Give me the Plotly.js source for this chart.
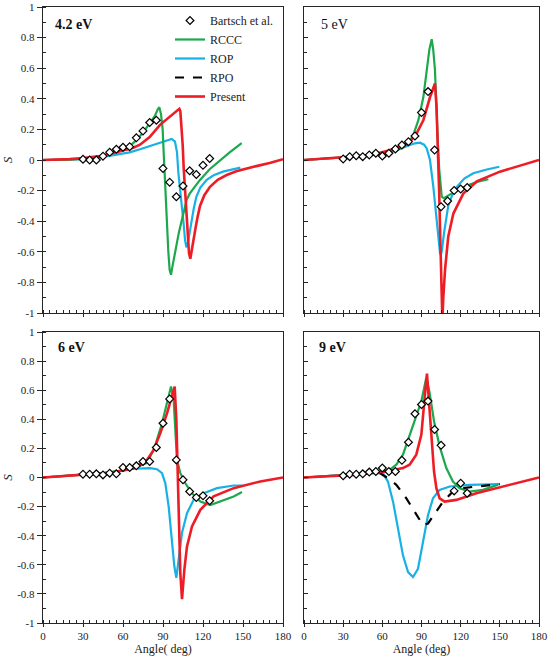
<!DOCTYPE html>
<html><head><meta charset="utf-8">
<script src="https://cdn.plot.ly/plotly-3.0.1.min.js"></script>
<style>html,body{margin:0;padding:0;background:#fff}#chart{width:550px;height:658px}</style>
</head><body><div id="chart"></div><script>
// ---------- data ----------
const panelLabels = ['4.2 eV', '5 eV', '6 eV', '9 eV'];
const yTickVals = [-1, -0.8, -0.6, -0.4, -0.2, 0, 0.2, 0.4, 0.6, 0.8, 1];
const yTickText = ['-1', '-0.8', '-0.6', '-0.4', '-0.2', '0', '0.2', '0.4', '0.6', '0.8', '1'];

// Bartsch et al. (experiment)
const expAngles = [30,35,40,45,50,55,60,65,70,75,80,85,90,95,100,105,110,115,120,125];
const exp42 = [0.005,0,0,0.025,0.05,0.07,0.083,0.087,0.145,0.19,0.245,0.26,-0.055,-0.145,-0.24,-0.17,-0.07,-0.095,-0.035,0.01];
const exp5  = [0.007,0.022,0.028,0.022,0.033,0.044,0.026,0.044,0.072,0.098,0.12,0.157,0.31,0.447,0.065,-0.305,-0.268,-0.2,-0.19,-0.18];
const exp6  = [0.023,0.023,0.025,0.018,0.03,0.025,0.069,0.069,0.08,0.11,0.11,0.206,0.373,0.54,0.121,-0.016,-0.096,-0.137,-0.126,-0.16];
const expAngles9 = [30,35,40,45,50,55,60,65,70,75,80,85,90,95,100,105,115,120,125];
const exp9  = [0.012,0.023,0.023,0.025,0.037,0.041,0.065,0.041,0.041,0.118,0.242,0.438,0.502,0.525,0.33,0.221,-0.092,-0.039,-0.108];

// 4.2 eV
const rccc42X = [0,10,20,30,40,50,60,65,70,75,80,84,86,87.25,88.5,89.75,90.5,91.25,92,93,94,95,96,97,98.5,100.25,102,104,106,107.75,110,114,117.75,125,132.75,140,149];
const rccc42Y = [0,0.001,0.003,0.008,0.018,0.04,0.07,0.09,0.13,0.18,0.24,0.29,0.33,0.345,0.3,0.2,0.05,-0.1,-0.25,-0.45,-0.6,-0.72,-0.75,-0.7,-0.62,-0.55,-0.47,-0.39,-0.32,-0.26,-0.22,-0.17,-0.13,-0.06,0,0.05,0.11];
const rop42X = [0,15,30,45,55,65,72.75,80,87.75,93,96.5,99,100.5,101.5,103,104.5,105.5,106.5,107.5,108.5,110,111.5,113,115,118,122.75,128,135,141,148];
const rop42Y = [0,0.002,0.005,0.02,0.035,0.05,0.07,0.09,0.113,0.13,0.138,0.12,0.05,-0.08,-0.2,-0.3,-0.42,-0.52,-0.57,-0.55,-0.47,-0.4,-0.32,-0.24,-0.18,-0.13,-0.1,-0.076,-0.062,-0.05];
const pres42X = [0,10,20,30,42.75,55,67.75,72.75,80,87.75,92,96.5,100,102.25,103,104,104.75,105.5,106.5,107.5,108.5,109.5,110.5,111.5,113,114.5,116,117.75,121,125.25,131,137.75,145,152.75,160,170,180];
const pres42Y = [0,0.002,0.006,0.012,0.026,0.05,0.08,0.1,0.15,0.23,0.26,0.29,0.32,0.335,0.32,0.2,0.1,-0.05,-0.2,-0.35,-0.5,-0.61,-0.645,-0.6,-0.52,-0.44,-0.37,-0.3,-0.23,-0.175,-0.13,-0.098,-0.073,-0.054,-0.04,-0.02,0.005];

// 5 eV
const rccc5X = [0,15,30,45,60,70,76,80,83.7,87.6,91.4,94,96,97.8,99,100.3,101,101.6,102.6,103.6,104.5,105.5,107,109.3,113,117,122,127,134,141.2];
const rccc5Y = [0,0.008,0.015,0.025,0.04,0.06,0.085,0.11,0.163,0.26,0.41,0.59,0.72,0.79,0.72,0.59,0.43,0.26,0.1,-0.065,-0.18,-0.24,-0.25,-0.24,-0.22,-0.2,-0.18,-0.16,-0.14,-0.126];
const rop5X = [0,15,30,45,60,70,78,85,88.8,92,94,96.5,99,101.6,103,104.2,104.9,105.8,107.2,108.8,110.5,113.5,117,123,129.7,140,149.6];
const rop5Y = [0,0.008,0.015,0.025,0.04,0.06,0.088,0.109,0.113,0.1,0.076,0,-0.17,-0.39,-0.52,-0.61,-0.62,-0.58,-0.48,-0.38,-0.3,-0.23,-0.175,-0.12,-0.087,-0.062,-0.044];
const pres5X = [0,15,30,45,55,65,73.5,81.2,86.3,91.4,96.5,99,100.3,101.5,102.5,103.5,104.5,105.3,106,106.7,108,110.5,114.4,122,132.3,150.1,165,180];
const pres5Y = [0,0.008,0.016,0.028,0.04,0.062,0.09,0.12,0.174,0.26,0.41,0.47,0.5,0.35,0.1,-0.2,-0.55,-0.85,-1.05,-0.9,-0.72,-0.5,-0.35,-0.22,-0.14,-0.076,-0.04,0];

// 6 eV
const rccc6X = [0,15,30,45,60,70,78,83.5,89.25,93,96,98,99.25,100.5,103,106.75,111.75,118,125.5,133,143,149.25];
const rccc6Y = [0,0.01,0.02,0.03,0.05,0.07,0.1,0.2,0.373,0.52,0.625,0.53,0.33,0.12,0.03,-0.04,-0.108,-0.165,-0.19,-0.165,-0.13,-0.1];
const rop6X = [0,15,30.5,45,55.5,68,80.5,85.5,89.25,91.75,94.25,96.75,98.5,100,101.75,104.25,108,113,120.5,130.5,143,150];
const rop6Y = [0,0.01,0.018,0.03,0.04,0.06,0.064,0.057,0.03,-0.04,-0.2,-0.43,-0.61,-0.69,-0.566,-0.38,-0.245,-0.153,-0.108,-0.073,-0.055,-0.055];
const pres6X = [0,15,30,43,55,68,78,83,88,93,96,98.75,100,101,102,103,104.25,106,108,111.75,118,128,143,163,180];
const pres6Y = [0,0.012,0.02,0.025,0.04,0.064,0.12,0.19,0.305,0.44,0.54,0.625,0.4,0.053,-0.29,-0.66,-0.836,-0.635,-0.474,-0.337,-0.222,-0.13,-0.073,-0.027,0];

// 9 eV
const rccc9X = [0,15,30,45,55,60.5,65.6,70.7,75.8,80.9,86,89.9,93.7,96.2,99.6,103.9,109,114.1,119.2,126.9,137.1,148.6];
const rccc9Y = [0,0.008,0.015,0.025,0.035,0.041,0.053,0.088,0.157,0.295,0.433,0.525,0.687,0.583,0.387,0.214,0.065,-0.028,-0.074,-0.097,-0.085,-0.05];
const rop9X = [0,15,30,50.3,60.5,64.3,68.2,72,75.8,79.7,83.5,87.3,91.1,95,98.8,103.9,111.6,126.9,149.9];
const rop9Y = [0,0.008,0.015,0.03,0.03,-0.028,-0.166,-0.35,-0.535,-0.65,-0.684,-0.627,-0.442,-0.258,-0.143,-0.085,-0.062,-0.051,-0.046];
const rpo9X = [30,45,58,64.3,70.7,78.4,86,91.1,95,100.1,106.5,112.8,120.5,132,149.9];
const rpo9Y = [0.015,0.025,0.03,-0.005,-0.05,-0.143,-0.258,-0.327,-0.316,-0.247,-0.166,-0.108,-0.074,-0.062,-0.046];
const pres9X = [0,15,37.5,50,63,75.8,80.9,86,89.9,92.4,94.2,95.7,97.5,99.6,101.4,103.9,107.7,116.7,132,152.4,180];
const pres9Y = [0,0.008,0.018,0.03,0.041,0.065,0.088,0.157,0.295,0.548,0.714,0.525,0.272,0.041,-0.074,-0.143,-0.166,-0.154,-0.108,-0.062,0];

// ---------- styling ----------
const GREEN = '#1ca84c', CYAN = '#16b1e6', RED = '#ee1c25', BLACK = '#000000';
const FONT = 'Times New Roman, Liberation Serif, DejaVu Serif, serif';

function line(x, y, xa, ya, name, color, width, dash, show) {
  return {x, y, xaxis: xa, yaxis: ya, type: 'scatter', mode: 'lines', name,
    line: {color, width, dash: dash || 'solid'}, showlegend: !!show, legendgroup: name,
    legendrank: {'RCCC': 2, 'ROP': 3, 'RPO': 4, 'Present': 5}[name], hoverinfo: 'skip'};
}
function exp(x, y, xa, ya, show) {
  return {x, y, xaxis: xa, yaxis: ya, type: 'scatter', mode: 'markers', name: 'Bartsch et al.',
    marker: {symbol: 'diamond', size: 6, color: '#ffffff', line: {color: BLACK, width: 1.2}},
    showlegend: !!show, legendgroup: 'exp', legendrank: 1, hoverinfo: 'skip'};
}

const traces = [
  line(rop42X, rop42Y, 'x', 'y', 'ROP', CYAN, 2.2, null, true),
  line(rccc42X, rccc42Y, 'x', 'y', 'RCCC', GREEN, 2.2, null, true),
  line(pres42X, pres42Y, 'x', 'y', 'Present', RED, 2.6, null, true),
  exp(expAngles, exp42, 'x', 'y', true),

  line(rop5X, rop5Y, 'x2', 'y2', 'ROP', CYAN, 2.2),
  line(rccc5X, rccc5Y, 'x2', 'y2', 'RCCC', GREEN, 2.2),
  line(pres5X, pres5Y, 'x2', 'y2', 'Present', RED, 2.6),
  exp(expAngles, exp5, 'x2', 'y2'),

  line(rop6X, rop6Y, 'x3', 'y3', 'ROP', CYAN, 2.2),
  line(rccc6X, rccc6Y, 'x3', 'y3', 'RCCC', GREEN, 2.2),
  line(pres6X, pres6Y, 'x3', 'y3', 'Present', RED, 2.6),
  exp(expAngles, exp6, 'x3', 'y3'),

  line(rop9X, rop9Y, 'x4', 'y4', 'ROP', CYAN, 2.2),
  line(rccc9X, rccc9Y, 'x4', 'y4', 'RCCC', GREEN, 2.2),
  line(rpo9X, rpo9Y, 'x4', 'y4', 'RPO', BLACK, 2.2, 'dash', true),
  line(pres9X, pres9Y, 'x4', 'y4', 'Present', RED, 2.6),
  exp(expAngles9, exp9, 'x4', 'y4')
];

const W = 550, H = 658;
const colDom = [[43 / W, 283 / W], [304 / W, 539 / W]];
const rowDom = [[(H - 313) / H, (H - 7) / H], [(H - 623) / H, (H - 332) / H]];
const LC = '#262626';

function xAxis(col, row, anchor, labels, title) {
  const a = {domain: colDom[col], anchor, range: [0, 180], tickmode: 'linear', tick0: 0, dtick: 30,
    showticklabels: labels, ticks: 'outside', ticklen: 3, tickcolor: LC, tickwidth: 1,
    minor: {tickmode: 'linear', tick0: 0, dtick: 5, ticks: 'inside', ticklen: 3, tickcolor: LC, tickwidth: 1},
    showline: true, mirror: true, linecolor: LC, linewidth: 1.2, showgrid: false, zeroline: false,
    tickfont: {family: FONT, size: 11, color: '#222'}, fixedrange: true, automargin: false};
  if (title) a.title = {text: title, font: {family: FONT, size: 12, color: '#222'}, standoff: 3};
  return a;
}
function yAxis(col, row, anchor, labels) {
  const a = {domain: rowDom[row], anchor, range: [-1, 1], tickmode: 'array', tickvals: yTickVals, ticktext: yTickText,
    showticklabels: labels, ticks: labels ? 'outside' : 'inside', ticklen: labels ? 5 : 4, tickcolor: LC, tickwidth: 1,
    minor: {tickmode: 'linear', tick0: 0, dtick: 0.1, ticks: 'inside', ticklen: 3, tickcolor: LC, tickwidth: 1},
    showline: true, mirror: true, linecolor: LC, linewidth: 1.2, showgrid: false, zeroline: false,
    tickfont: {family: FONT, size: 11, color: '#222'}, fixedrange: true, automargin: false};
  if (labels) a.title = {text: '<i>S</i>', font: {family: FONT, size: 13, color: '#222'}, standoff: 4};
  return a;
}

const labelPos = [[0.042, 0.944, true], [0.064, 0.944, false], [0.054, 0.948, true], [0.055, 0.948, true]];
const axisIds = [['x', 'y'], ['x2', 'y2'], ['x3', 'y3'], ['x4', 'y4']];
const annotations = panelLabels.map((t, i) => ({
  text: labelPos[i][2] ? '<b>' + t + '</b>' : t, xref: axisIds[i][0] + ' domain', yref: axisIds[i][1] + ' domain',
  x: labelPos[i][0], y: labelPos[i][1], xanchor: 'left', yanchor: 'middle', showarrow: false,
  font: {family: FONT, size: 14, color: '#111'}
}));

const layout = {
  width: W, height: H, margin: {l: 0, r: 0, t: 0, b: 0}, paper_bgcolor: '#fff', plot_bgcolor: '#fff',
  font: {family: FONT},
  showlegend: true,
  legend: {x: 170 / W, y: (H - 6) / H, xanchor: 'left', yanchor: 'top', bgcolor: 'rgba(0,0,0,0)',
    font: {family: FONT, size: 12, color: '#222'}, traceorder: 'normal', tracegroupgap: 0},
  xaxis: xAxis(0, 0, 'y', false),
  yaxis: yAxis(0, 0, 'x', true),
  xaxis2: xAxis(1, 0, 'y2', false),
  yaxis2: yAxis(1, 0, 'x2', false),
  xaxis3: xAxis(0, 1, 'y3', true, 'Angle( deg)'),
  yaxis3: yAxis(0, 1, 'x3', true),
  xaxis4: xAxis(1, 1, 'y4', true, 'Angle (deg)'),
  yaxis4: yAxis(1, 1, 'x4', false),
  annotations
};

Plotly.newPlot('chart', traces, layout, {displayModeBar: false, staticPlot: true});
</script></body></html>
